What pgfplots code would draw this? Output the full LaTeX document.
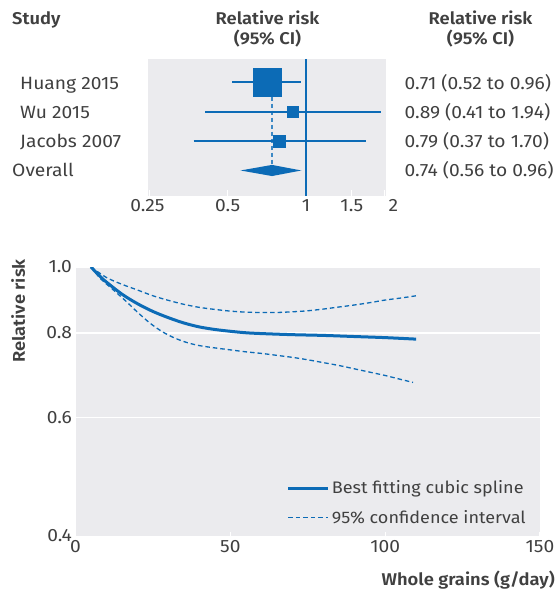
\documentclass[border=0pt]{standalone}
\usepackage{pgfplots}
\pgfplotsset{compat=1.18}
\usepackage{fontspec}
\setmainfont{Fira Sans}[FakeStretch=1.08, BoldFont={Fira Sans SemiBold}]
\definecolor{bmjblue}{RGB}{12,107,182}
\definecolor{panel}{RGB}{235,235,238}
\definecolor{tgray}{RGB}{64,64,64}
\newcommand\fs{\fontsize{17.8}{21}\selectfont}
\newcommand\fl{\fontsize{16.7}{20}\selectfont}
\newcommand\fb{\fontsize{17}{20}\selectfont\bfseries}

% spline and confidence limits
\pgfplotstableread{
x y
5 1.000
8 0.968
10 0.950
15 0.912
20 0.883
25 0.860
30 0.842
35 0.827
40 0.816
45 0.809
50 0.804
55 0.800
60 0.798
70 0.795
80 0.793
90 0.790
100 0.787
110 0.783
}\splinetab
\pgfplotstableread{
x y
5 1.000
10 0.965
15 0.943
20 0.925
25 0.907
30 0.893
35 0.881
40 0.872
45 0.866
50 0.861
55 0.858
60 0.857
65 0.857
70 0.859
75 0.862
80 0.867
85 0.873
90 0.879
95 0.886
100 0.894
105 0.900
110 0.907
}\uppertab
\pgfplotstableread{
x y
5 1.000
8 0.962
12 0.927
16 0.893
20 0.858
24 0.827
28 0.803
32 0.786
36 0.774
40 0.766
45 0.760
50 0.755
55 0.750
60 0.746
65 0.741
70 0.736
75 0.730
80 0.723
85 0.716
90 0.708
95 0.700
100 0.692
105 0.683
109 0.676
}\lowertab

\begin{document}
\begin{tikzpicture}
% ---- forest plot ----
\begin{axis}[
    at={(148.3pt,394pt)}, anchor=south west,
    scale only axis, width=237.7pt, height=137pt,
    xmode=log, log basis x=2,
    xmin=0.2476, xmax=2.03,
    ymin=0.199, ymax=4.87, y dir=reverse,
    axis background/.style={fill=panel},
    axis line style={draw=none},
    xtick={0.25,0.5,1,1.5,2},
    xticklabels={0.25\hspace*{4pt},0.5,1,1.5,\hspace*{18pt}2},
    ytick=\empty,
    tick align=inside, xtick pos=bottom,
    major tick length=5.5pt,
    tick style={white, line width=1.2pt},
    ticklabel style={font=\fs, text=tgray},
    clip=false,
]
\addplot[bmjblue, line width=1.8pt] coordinates {(1,0.199) (1,4.87)};
\addplot[bmjblue!80, line width=1.8pt, dash pattern=on 4pt off 3pt] coordinates {(0.74,1.48) (0.74,3.81)};
% CIs
\addplot[bmjblue, line width=2pt] coordinates {(0.52,1) (0.96,1)};
\addplot[bmjblue, line width=2pt] coordinates {(0.41,2) (1.94,2)};
\addplot[bmjblue, line width=2pt] coordinates {(0.37,3) (1.70,3)};
% point estimates
\addplot[only marks, mark=square*, mark size=14.15pt, bmjblue] coordinates {(0.71,1)};
\addplot[only marks, mark=square*, mark size=5.85pt, bmjblue] coordinates {(0.89,2)};
\addplot[only marks, mark=square*, mark size=5.85pt, bmjblue] coordinates {(0.79,3)};
% overall
\addplot[fill=bmjblue, draw=none] coordinates {(0.56,4) (0.74,3.81) (0.96,4) (0.74,4.19)} -- cycle;
\end{axis}

% headers and labels
\begin{scope}[every node/.style={inner sep=0pt, text=tgray}]
\node[anchor=base west, font=\fb] at (12pt,565pt) {Study};
\node[anchor=base, font=\fb] at (267.5pt,565pt) {Relative risk};
\node[anchor=base, font=\fb] at (267.5pt,545pt) {(95\% CI)};
\node[anchor=base, font=\fb] at (480.5pt,565pt) {Relative risk};
\node[anchor=base, font=\fb] at (480.5pt,545pt) {(95\% CI)};
\node[anchor=base west, font=\fs] at (20pt,500.7pt) {Huang 2015};
\node[anchor=base west, font=\fs] at (20pt,471pt) {Wu 2015};
\node[anchor=base west, font=\fs] at (20pt,442.3pt) {Jacobs 2007};
\node[anchor=base west, font=\fs] at (12pt,413.3pt) {Overall};
\node[anchor=base west, font=\fs] at (404.5pt,500.7pt) {0.71 (0.52 to 0.96)};
\node[anchor=base west, font=\fs] at (404.5pt,471pt) {0.89 (0.41 to 1.94)};
\node[anchor=base west, font=\fs] at (404.5pt,442.3pt) {0.79 (0.37 to 1.70)};
\node[anchor=base west, font=\fs] at (404.5pt,413.3pt) {0.74 (0.56 to 0.96)};
\node[rotate=90, font=\fb] at (18.3pt,279pt) {Relative risk};
\node[anchor=base east, font=\fb] at (555pt,5pt) {Whole grains (g/day)};
\end{scope}

% ---- dose response ----
\begin{axis}[
    at={(75.5pt,53pt)}, anchor=south west,
    scale only axis, width=464.5pt, height=270pt,
    xmin=0, xmax=150,
    ymode=log, ymin=0.4, ymax=1.0,
    xtick={0,50,100,150}, xticklabels={0,50,100,150},
    ytick={0.4,0.6,0.8,1.0}, yticklabels={\raisebox{3pt}{0.4},0.6,0.8,1.0},
    axis background/.style={fill=panel},
    axis line style={draw=none},
    ymajorgrids, grid style={white, line width=1.5pt},
    tick align=inside, xtick pos=bottom,
    major tick length=5pt,
    xtick style={white, line width=1.2pt},
    ytick style={draw=none},
    ticklabel style={font=\fs, text=tgray},
    legend cell align=left,
    legend image code/.code={\draw[#1] (0pt,0pt) -- (40pt,0pt);},
    legend style={at={(rel axis cs:0.4547,0.216)}, anchor=north west,
        draw=none, fill=none, inner sep=0pt, font=\fl, text=tgray,
        row sep=11pt,
        nodes={inner sep=2pt, anchor=west},
        /tikz/every even column/.append style={column sep=4pt}},
]
\addplot[bmjblue, line width=3pt, smooth] table {\splinetab};
\addlegendentry{Best fitting cubic spline}
\addplot[bmjblue, line width=1.3pt, dash pattern=on 4.5pt off 3pt, smooth] table {\uppertab};
\addlegendentry{95\% confidence interval}
\addplot[bmjblue, line width=1.3pt, dash pattern=on 4.5pt off 3pt, smooth, forget plot] table {\lowertab};
\end{axis}
\pgfresetboundingbox
\useasboundingbox (0,0) rectangle (556pt,590pt);
\end{tikzpicture}
\end{document}
